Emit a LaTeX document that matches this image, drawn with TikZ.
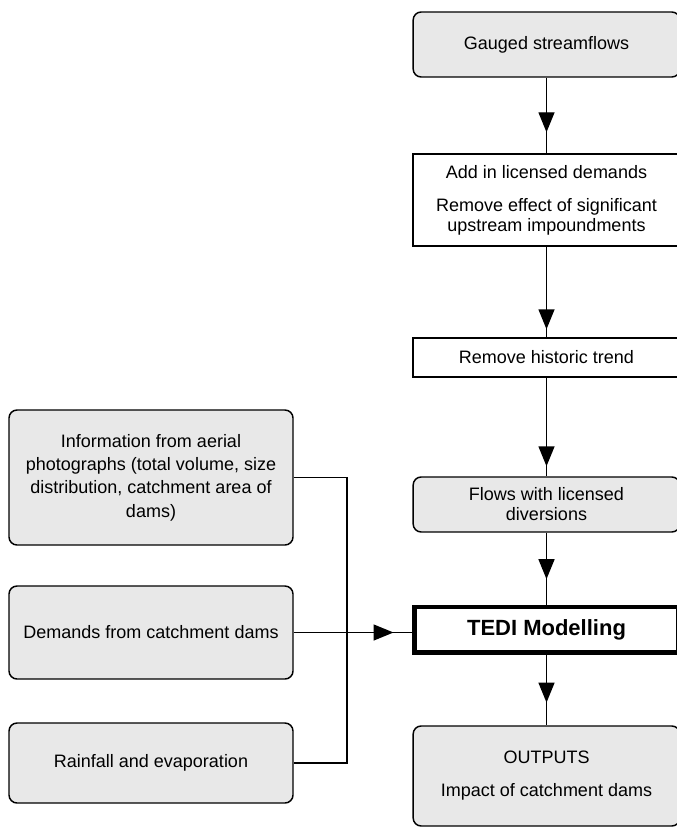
\documentclass[tikz,border=0pt]{standalone}
\usepackage{fontspec}
\setmainfont{Liberation Sans}
\usepackage{xcolor}
\definecolor{boxgrey}{RGB}{232, 232, 232}
\usepackage{tikz}
\usetikzlibrary{arrows.meta, decorations.markings, calc}

\begin{document}
\begin{tikzpicture}[x=0.75pt, y=-0.75pt, line width=1.1pt,
    font=\fontsize{13.5}{15}\selectfont,
    greybox/.style={draw, rounded corners=6pt, fill=boxgrey, align=center, inner sep=0pt},
    plainbox/.style={draw, fill=white, align=center, inner sep=0pt},
    midarrow/.style={postaction={decorate}, decoration={markings,
        mark=at position #1 with {\arrow{Triangle[length=15pt, width=12pt]}}}}]
\useasboundingbox (0,0) rectangle (677,827);
% right column
\node[greybox, minimum width=200pt, minimum height=48.75pt] (gauged) at (546.5,44.5) {Gauged streamflows};
\node[plainbox, minimum width=200pt, minimum height=69pt] (licensed) at (546.5,200) {Add in licensed demands\\[9.75pt]Remove effect of significant\\upstream impoundments};
\node[plainbox, minimum width=200pt, minimum height=29.25pt] (trend) at (546.5,357.5) {Remove historic trend};
\node[greybox, minimum width=200pt, minimum height=41.25pt] (flows) at (546.5,504.5) {Flows with licensed\\diversions};
\node[plainbox, line width=3.5pt, minimum width=198pt, minimum height=34pt, font=\fontsize{16.5}{18}\selectfont\bfseries] (tedi) at (546.5,629.5) {TEDI Modelling};
\node[greybox, minimum width=200pt, minimum height=75pt] (outputs) at (546.5,776) {OUTPUTS\\[9.75pt]Impact of catchment dams};
% left column
\node[greybox, minimum width=213pt, minimum height=101.25pt, font=\fontsize{13.5}{17.5}\selectfont] (aerial) at (151,477.5) {Information from aerial\\photographs (total volume, size\\distribution, catchment area of\\dams)};
\node[greybox, minimum width=213pt, minimum height=69.75pt] (demands) at (151,632.5) {Demands from catchment dams};
\node[greybox, minimum width=213pt, minimum height=60pt] (rain) at (151,763) {Rainfall and evaporation};
\coordinate (join) at (347,0);
% connectors
\draw[midarrow=-15.75pt] (gauged) -- (licensed);
\draw[midarrow=-6pt] (licensed) -- (trend);
\draw[midarrow=-7.5pt] (trend) -- (flows);
\draw[midarrow=-19pt] (flows) -- (tedi);
\draw[midarrow=-17pt] (tedi) -- (outputs);
\draw[midarrow=-14pt] (demands) -- (demands -| tedi.west);
\draw (aerial.east) -- (aerial.east -| join) -- (rain.east -| join) -- (rain.east);
\end{tikzpicture}
\end{document}
